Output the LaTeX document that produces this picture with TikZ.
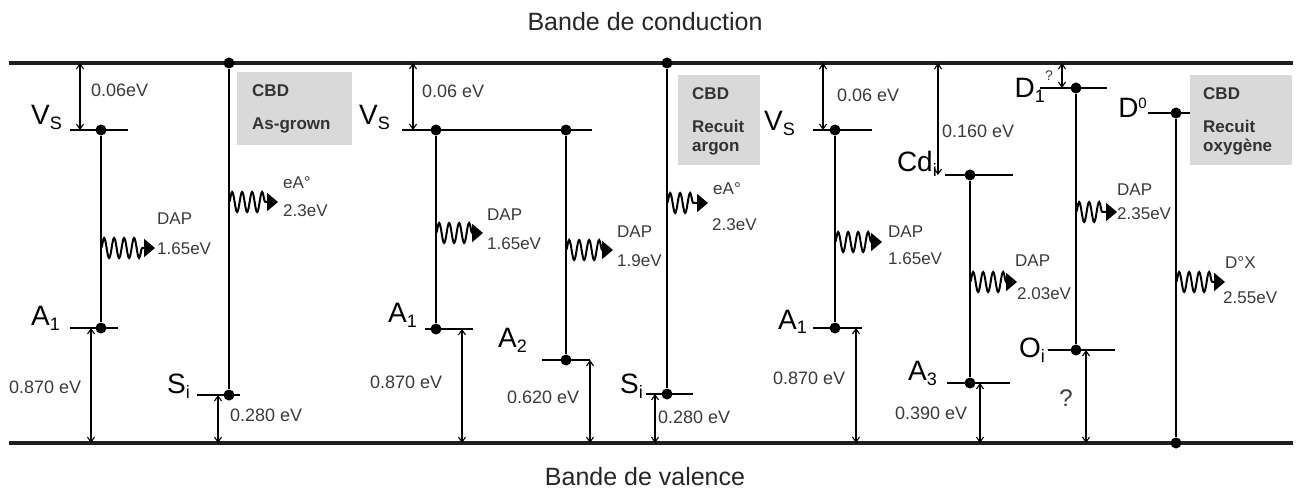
\documentclass[tikz,border=0pt]{standalone}
\usepackage{fontspec}
\setmainfont{Liberation Sans}
\usetikzlibrary{arrows.meta,decorations.pathmorphing}
\newcommand\lsub[1]{\raisebox{-5pt}{\fontsize{18}{18}\selectfont #1}}
\newcommand\lsup[1]{\raisebox{9pt}{\fontsize{15}{15}\selectfont #1}}
\definecolor{boxgray}{HTML}{D9D9D9}
\definecolor{txtgray}{HTML}{3A3A3A}
\begin{document}
\begin{tikzpicture}[x=1pt,y=-1pt,
  band/.style={line width=4.5pt, draw=black!88},
  lvl/.style={line width=1.4pt},
  link/.style={line width=1.4pt},
  dimarr/.style={line width=1.1pt, {Straight Barb[length=5pt,width=7pt]}-{Straight Barb[length=5pt,width=7pt]}},
  dimlbl/.style={font=\fontsize{18}{20}\selectfont, text=txtgray, inner sep=0pt, anchor=west},
  wlbl/.style={font=\fontsize{17}{19}\selectfont, text=txtgray, inner sep=0pt, anchor=west},
  lvlname/.style={font=\fontsize{28}{30}\selectfont, inner sep=0pt, anchor=base east},
  ttl/.style={font=\fontsize{25}{27}\selectfont, text=black!85, inner sep=0pt},
  cbdbox/.style={fill=boxgray, draw=none, anchor=north west, inner sep=0pt},
  cbdtxt/.style={font=\fontsize{17}{20}\bfseries\selectfont, text=black!80, inner sep=0pt, anchor=base west},
  ldot/.style={circle, fill=black, inner sep=0pt, minimum size=11pt},
  wave/.style={line width=2pt, decorate,
    decoration={snake, segment length=10pt, amplitude=10pt, post length=10pt},
    -{Triangle[length=11pt,width=18pt]}}
]
\useasboundingbox (0,0) rectangle (1298,494);

% grey boxes
\node[cbdbox, minimum width=115pt, minimum height=73pt] (box1) at (237,72) {};
\node[cbdbox, minimum width=82pt, minimum height=90pt] (box2) at (678,75) {};
\node[cbdbox, minimum width=102pt, minimum height=90pt] (box3) at (1190,75) {};
\node[cbdtxt] (b1a) at (252,97) {CBD};
\node[cbdtxt] (b1b) at (252,130) {As-grown};
\node[cbdtxt] (b2a) at (692,100) {CBD};
\node[cbdtxt] (b2b) at (692,133) {Recuit};
\node[cbdtxt] (b2c) at (692,152) {argon};
\node[cbdtxt] (b3a) at (1203,100) {CBD};
\node[cbdtxt] (b3b) at (1203,133) {Recuit};
\node[cbdtxt] (b3c) at (1203,152) {oxygène};

% bands
\coordinate (cbL) at (9,63);  \coordinate (cbR) at (1293,63);
\coordinate (vbL) at (9,443); \coordinate (vbR) at (1293,443);
\draw[band] (cbL) -- (cbR);
\draw[band] (vbL) -- (vbR);
\node[ttl] (tc) at (645,22) {Bande de conduction};
\node[ttl] (tv) at (645,477) {Bande de valence};

% ---------- panel 1 ----------
\draw[lvl] (70,130) -- (128,130);
\draw[lvl] (70,328) -- (118,328);
\draw[lvl] (197,395) -- (240,395);
\node[ldot] (vs1) at (101,130) {};
\node[ldot] (a1) at (101,328) {};
\node[ldot] (s1t) at (229,63) {};
\node[ldot] (s1) at (229,395) {};
\draw[link] (vs1) -- (a1);
\draw[link] (s1t) -- (s1);
\node[lvlname] (nvs1) at (62,125) {V\lsub{S}};
\node[lvlname] (na1) at (60,325) {A\lsub{1}};
\node[lvlname] (ns1) at (190,393) {S\lsub{i}};
\draw[dimarr] (80,63) coordinate (d1t) -- (80,130) coordinate (d1b);
\draw[dimarr] (91,328) coordinate (d2t) -- (91,443) coordinate (d2b);
\draw[dimarr] (218,395) coordinate (d3t) -- (218,443) coordinate (d3b);
\node[dimlbl] (l1) at (91,90) {0.06eV};
\node[dimlbl] (l2) at (9,387) {0.870 eV};
\node[dimlbl] (l3) at (230,415) {0.280 eV};
\draw[wave] (101,248) coordinate (w1s) -- (155,248) coordinate (w1e);
\node[wlbl] (w1a) at (157,219) {DAP};
\node[wlbl] (w1b) at (157,249) {1.65eV};
\draw[wave] (229,202) coordinate (w2s) -- (278,202) coordinate (w2e);
\node[wlbl] (w2a) at (283,183) {eA°};
\node[wlbl] (w2b) at (283,211) {2.3eV};

% ---------- panel 2 ----------
\draw[lvl] (402,130) -- (592,130);
\draw[lvl] (425,329) -- (473,329);
\draw[lvl] (542,360) -- (590,360);
\draw[lvl] (646,394) -- (693,394);
\node[ldot] (vs2a) at (436,130) {};
\node[ldot] (vs2b) at (566,130) {};
\node[ldot] (a1b) at (436,329) {};
\node[ldot] (a2) at (566,360) {};
\node[ldot] (s2t) at (667,63) {};
\node[ldot] (s2) at (667,394) {};
\draw[link] (vs2a) -- (a1b);
\draw[link] (vs2b) -- (a2);
\draw[link] (s2t) -- (s2);
\node[lvlname] (nvs2) at (390,125) {V\lsub{S}};
\node[lvlname] (na1b) at (417,323) {A\lsub{1}};
\node[lvlname] (na2) at (527,347) {A\lsub{2}};
\node[lvlname] (ns2) at (643,393) {S\lsub{i}};
\draw[dimarr] (413,63) coordinate (d4t) -- (413,130) coordinate (d4b);
\draw[dimarr] (462,329) coordinate (d5t) -- (462,443) coordinate (d5b);
\draw[dimarr] (590,360) coordinate (d6t) -- (590,443) coordinate (d6b);
\draw[dimarr] (655,394) coordinate (d7t) -- (655,443) coordinate (d7b);
\node[dimlbl] (l4) at (422,91) {0.06 eV};
\node[dimlbl] (l5) at (370,382) {0.870 eV};
\node[dimlbl] (l6) at (507,397) {0.620 eV};
\node[dimlbl] (l7) at (658,417) {0.280 eV};
\draw[wave] (436,233) coordinate (w3s) -- (483,233) coordinate (w3e);
\node[wlbl] (w3a) at (487,215) {DAP};
\node[wlbl] (w3b) at (487,244) {1.65eV};
\draw[wave] (566,250) coordinate (w4s) -- (613,250) coordinate (w4e);
\node[wlbl] (w4a) at (617,232) {DAP};
\node[wlbl] (w4b) at (617,261) {1.9eV};
\draw[wave] (667,203) coordinate (w5s) -- (708,203) coordinate (w5e);
\node[wlbl] (w5a) at (713,189) {eA°};
\node[wlbl] (w5b) at (712,225) {2.3eV};

% ---------- panel 3 ----------
\draw[lvl] (813,130) -- (872,130);
\draw[lvl] (813,328) -- (862,328);
\draw[lvl] (945,175) -- (1013,175);
\draw[lvl] (947,383) -- (1010,383);
\node[ldot] (vs3) at (835,130) {};
\node[ldot] (a1c) at (835,328) {};
\node[ldot] (cd) at (970,175) {};
\node[ldot] (a3) at (970,383) {};
\draw[link] (vs3) -- (a1c);
\draw[link] (cd) -- (a3);
\node[lvlname] (nvs3) at (795,131) {V\lsub{S}};
\node[lvlname] (na1c) at (807,329) {A\lsub{1}};
\node[lvlname] (ncd) at (937,172) {Cd\lsub{i}};
\node[lvlname] (na3) at (937,380) {A\lsub{3}};
\draw[dimarr] (823,63) coordinate (d8t) -- (823,130) coordinate (d8b);
\draw[dimarr] (856,328) coordinate (d9t) -- (856,443) coordinate (d9b);
\draw[dimarr] (938,63) coordinate (d10t) -- (938,175) coordinate (d10b);
\draw[dimarr] (980,383) coordinate (d11t) -- (980,443) coordinate (d11b);
\node[dimlbl] (l8) at (837,95) {0.06 eV};
\node[dimlbl] (l9) at (773,378) {0.870 eV};
\node[dimlbl] (l10) at (942,131) {0.160 eV};
\node[dimlbl] (l11) at (895,413) {0.390 eV};
\draw[wave] (835,242) coordinate (w6s) -- (882,242) coordinate (w6e);
\node[wlbl] (w6a) at (888,232) {DAP};
\node[wlbl] (w6b) at (888,259) {1.65eV};
\draw[wave] (970,282) coordinate (w7s) -- (1017,282) coordinate (w7e);
\node[wlbl] (w7a) at (1015,261) {DAP};
\node[wlbl] (w7b) at (1017,294) {2.03eV};

% ---------- panel 4 ----------
\draw[lvl] (1040,88) -- (1107,88);
\draw[lvl] (1048,350) -- (1115,350);
\draw[lvl] (1148,113) -- (1190,113);
\node[ldot] (d1) at (1076,88) {};
\node[ldot] (oi) at (1076,350) {};
\node[ldot] (d0) at (1176,113) {};
\node[ldot] (d0b) at (1176,443) {};
\draw[link] (d1) -- (oi);
\draw[link] (d0) -- (d0b);
\node[lvlname] (nd1) at (1045,98) {D\lsub{1}};
\node[lvlname] (nd0) at (1147,118) {D\lsup{0}};
\node[lvlname] (noi) at (1045,357) {O\lsub{i}};
\draw[dimarr] (1062,63) coordinate (d12t) -- (1062,88) coordinate (d12b);
\draw[dimarr] (1086,350) coordinate (d13t) -- (1086,443) coordinate (d13b);
\node[font=\fontsize{14}{16}\selectfont, text=txtgray, inner sep=0pt] (q1) at (1049,76) {?};
\node[font=\fontsize{24}{26}\selectfont, text=txtgray, inner sep=0pt] (q2) at (1066,398) {?};
\draw[wave] (1076,212) coordinate (w8s) -- (1117,212) coordinate (w8e);
\node[wlbl] (w8a) at (1117,190) {DAP};
\node[wlbl] (w8b) at (1117,214) {2.35eV};
\draw[wave] (1176,282) coordinate (w9s) -- (1225,282) coordinate (w9e);
\node[wlbl] (w9a) at (1225,263) {D°X};
\node[wlbl] (w9b) at (1223,298) {2.55eV};
\end{tikzpicture}
\end{document}
